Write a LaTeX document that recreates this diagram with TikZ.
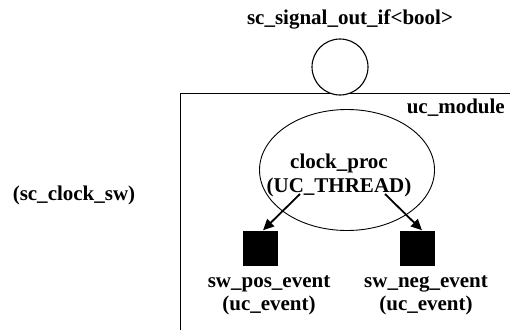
\documentclass[tikz,border=0pt]{standalone}
\usepackage{fontspec}
\setmainfont{Liberation Serif}
\usepackage{tikz}
\usetikzlibrary{shapes.geometric, arrows.meta}

\begin{document}
\begin{tikzpicture}[x=1pt, y=-1pt,
        lbl/.style={inner sep=0pt, align=center, font=\fontsize{21}{23.5}\selectfont\bfseries},
        evt/.style={rectangle, fill=black, minimum size=35pt, inner sep=0pt},
        arr/.style={-{Triangle[length=11pt, width=10pt]}, line width=1.8pt}
    ]
        \useasboundingbox (0,0) rectangle (510,329);
        \clip (0,0) rectangle (510,329);

        % ================= CLOCK AND PORT =================
        \node[lbl, anchor=base] (portname) at (350,25) {sc\_signal\_out\_if<bool>};
        \node[lbl, anchor=base] (clock) at (74,200) {(sc\_clock\_sw)};

        % ================= MODULE =================
        \node[draw, line width=0.9pt, minimum width=345pt, minimum height=260pt, inner sep=0pt, anchor=north west] (module) at (180,93) {};
        \node[lbl, anchor=base east] (modname) at (505,113) {uc\_module};
        \node[circle, draw, fill=white, line width=1.1pt, minimum size=56pt, inner sep=0pt] (port) at (340,67) {};

        \node[ellipse, draw, line width=0.9pt, minimum width=175pt, minimum height=121pt, inner sep=0pt] (proc) at (347,170) {};
        \node[lbl, anchor=north] (procname) at (339,154) {clock\_proc\\(UC\_THREAD)};

        \node[evt] (pos) at (260,248) {};
        \node[evt] (neg) at (417,248) {};
        \node[lbl, anchor=north] (posname) at (269,275) {sw\_pos\_event\\(uc\_event)};
        \node[lbl, anchor=north] (negname) at (426,275) {sw\_neg\_event\\(uc\_event)};

        \coordinate (posstart) at (300,194);
        \coordinate (negstart) at (385,194);
        \draw[arr] (posstart) -- ([xshift=3pt]pos.north);
        \draw[arr] (negstart) -- ([xshift=5pt]neg.north);
    \end{tikzpicture}
\end{document}
